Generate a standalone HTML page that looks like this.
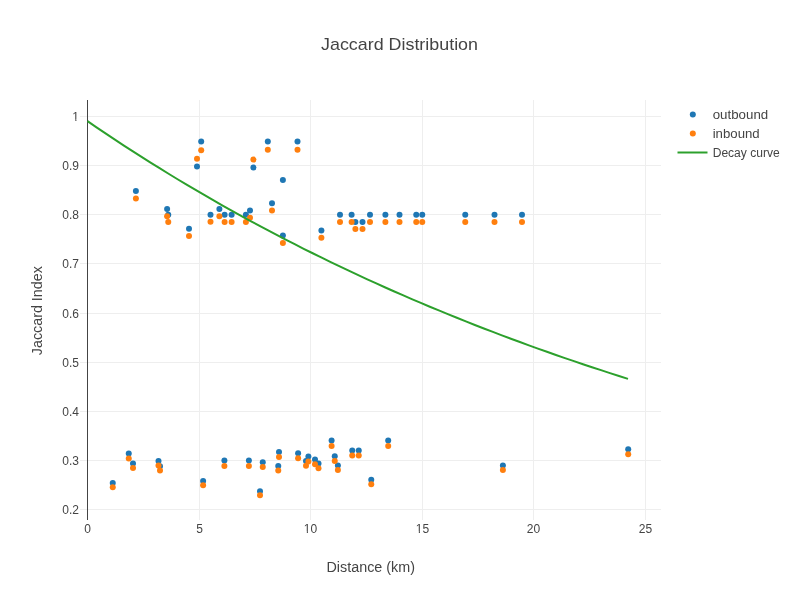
<!DOCTYPE html>
<html><head><meta charset="utf-8"><style>
html,body{margin:0;padding:0;background:#fff;}
svg{display:block;font-family:"Liberation Sans",sans-serif;will-change:transform;}
</style></head><body>
<svg width="800" height="600" viewBox="0 0 800 600">
<rect width="800" height="600" fill="#fff"/>
<g stroke="#eeeeee" stroke-width="1" fill="none" shape-rendering="crispEdges"><path d="M199.5,100V520" /><path d="M310.5,100V520" /><path d="M422.5,100V520" /><path d="M533.5,100V520" /><path d="M645.5,100V520" /><path d="M80,116.5H661" /><path d="M80,165.5H661" /><path d="M80,214.5H661" /><path d="M80,263.5H661" /><path d="M80,313.5H661" /><path d="M80,362.5H661" /><path d="M80,411.5H661" /><path d="M80,460.5H661" /><path d="M80,509.5H661" /></g>
<path d="M87.5,100V520" stroke="#444" stroke-width="1" shape-rendering="crispEdges"/>
<g fill="#1f77b4"><circle cx="135.9" cy="191.1" r="3"/><circle cx="167.1" cy="209.1" r="3"/><circle cx="168.25" cy="214.7" r="3"/><circle cx="189" cy="228.8" r="3"/><circle cx="197" cy="166.5" r="3"/><circle cx="201.2" cy="141.6" r="3"/><circle cx="210.5" cy="214.8" r="3"/><circle cx="219.4" cy="209.1" r="3"/><circle cx="224.6" cy="214.7" r="3"/><circle cx="231.6" cy="214.7" r="3"/><circle cx="245.9" cy="214.7" r="3"/><circle cx="250" cy="210.4" r="3"/><circle cx="253.4" cy="167.4" r="3"/><circle cx="267.8" cy="141.5" r="3"/><circle cx="272" cy="203.2" r="3"/><circle cx="282.9" cy="235.6" r="3"/><circle cx="282.9" cy="179.9" r="3"/><circle cx="297.5" cy="141.5" r="3"/><circle cx="321.4" cy="230.45" r="3"/><circle cx="340" cy="214.8" r="3"/><circle cx="351.6" cy="214.8" r="3"/><circle cx="355.4" cy="221.95" r="3"/><circle cx="362.5" cy="221.95" r="3"/><circle cx="370" cy="214.8" r="3"/><circle cx="385.4" cy="214.8" r="3"/><circle cx="399.5" cy="214.8" r="3"/><circle cx="416.25" cy="214.8" r="3"/><circle cx="422.25" cy="214.8" r="3"/><circle cx="465.25" cy="214.8" r="3"/><circle cx="494.5" cy="214.8" r="3"/><circle cx="522" cy="214.8" r="3"/><circle cx="112.75" cy="482.9" r="3"/><circle cx="128.75" cy="453.4" r="3"/><circle cx="133" cy="463.5" r="3"/><circle cx="158.5" cy="460.9" r="3"/><circle cx="160" cy="466.25" r="3"/><circle cx="203.1" cy="480.9" r="3"/><circle cx="224.4" cy="460.6" r="3"/><circle cx="248.9" cy="460.6" r="3"/><circle cx="260" cy="491.25" r="3"/><circle cx="262.75" cy="462.25" r="3"/><circle cx="278.25" cy="466.1" r="3"/><circle cx="279" cy="451.9" r="3"/><circle cx="298.1" cy="453.3" r="3"/><circle cx="306" cy="460.9" r="3"/><circle cx="308.4" cy="456.4" r="3"/><circle cx="315" cy="459.5" r="3"/><circle cx="318.5" cy="463.4" r="3"/><circle cx="331.6" cy="440.6" r="3"/><circle cx="334.75" cy="456.25" r="3"/><circle cx="337.9" cy="465.6" r="3"/><circle cx="352.25" cy="450.4" r="3"/><circle cx="358.75" cy="450.4" r="3"/><circle cx="371.25" cy="479.75" r="3"/><circle cx="388.2" cy="440.6" r="3"/><circle cx="502.9" cy="465.6" r="3"/><circle cx="628.2" cy="449.2" r="3"/></g>
<g fill="#ff7f0e"><circle cx="135.9" cy="198.6" r="3"/><circle cx="167.1" cy="216.2" r="3"/><circle cx="168.25" cy="221.95" r="3"/><circle cx="189" cy="235.95" r="3"/><circle cx="197" cy="158.7" r="3"/><circle cx="201.2" cy="150.3" r="3"/><circle cx="210.5" cy="221.8" r="3"/><circle cx="219.4" cy="216.2" r="3"/><circle cx="224.6" cy="222" r="3"/><circle cx="231.6" cy="222" r="3"/><circle cx="245.9" cy="222" r="3"/><circle cx="250" cy="217.7" r="3"/><circle cx="253.4" cy="159.6" r="3"/><circle cx="267.8" cy="149.85" r="3"/><circle cx="272" cy="210.6" r="3"/><circle cx="282.9" cy="243" r="3"/><circle cx="297.5" cy="149.85" r="3"/><circle cx="321.4" cy="237.7" r="3"/><circle cx="340" cy="221.95" r="3"/><circle cx="351.6" cy="221.95" r="3"/><circle cx="355.4" cy="228.95" r="3"/><circle cx="362.5" cy="228.95" r="3"/><circle cx="370" cy="221.95" r="3"/><circle cx="385.4" cy="221.95" r="3"/><circle cx="399.5" cy="221.95" r="3"/><circle cx="416.25" cy="221.95" r="3"/><circle cx="422.25" cy="221.95" r="3"/><circle cx="465.25" cy="221.95" r="3"/><circle cx="494.5" cy="221.95" r="3"/><circle cx="522" cy="221.95" r="3"/><circle cx="112.75" cy="487.25" r="3"/><circle cx="128.75" cy="458.4" r="3"/><circle cx="133" cy="468.1" r="3"/><circle cx="158.5" cy="465.6" r="3"/><circle cx="160" cy="470.6" r="3"/><circle cx="203.1" cy="485.25" r="3"/><circle cx="224.4" cy="465.9" r="3"/><circle cx="248.9" cy="465.9" r="3"/><circle cx="260" cy="495.25" r="3"/><circle cx="262.75" cy="467.1" r="3"/><circle cx="278.25" cy="470.6" r="3"/><circle cx="279" cy="456.9" r="3"/><circle cx="298.1" cy="458.3" r="3"/><circle cx="306" cy="465.75" r="3"/><circle cx="308.4" cy="461.4" r="3"/><circle cx="315" cy="464.25" r="3"/><circle cx="318.5" cy="468.2" r="3"/><circle cx="331.6" cy="445.9" r="3"/><circle cx="334.75" cy="461" r="3"/><circle cx="337.9" cy="470" r="3"/><circle cx="352.25" cy="455.6" r="3"/><circle cx="358.75" cy="455.6" r="3"/><circle cx="371.25" cy="484.3" r="3"/><circle cx="388.2" cy="445.9" r="3"/><circle cx="502.9" cy="470" r="3"/><circle cx="628.2" cy="454.2" r="3"/></g>
<path d="M87.50,121.17L96.51,127.32L105.52,133.39L114.53,139.39L123.53,145.30L132.54,151.14L141.55,156.91L150.56,162.60L159.57,168.21L168.57,173.76L177.58,179.23L186.59,184.63L195.60,189.96L204.61,195.22L213.62,200.41L222.62,205.54L231.63,210.60L240.64,215.59L249.65,220.52L258.66,225.38L267.67,230.18L276.68,234.92L285.68,239.60L294.69,244.22L303.70,248.78L312.71,253.27L321.72,257.71L330.73,262.10L339.73,266.42L348.74,270.69L357.75,274.90L366.76,279.06L375.77,283.17L384.78,287.22L393.78,291.22L402.79,295.17L411.80,299.07L420.81,302.91L429.82,306.71L438.82,310.45L447.83,314.15L456.84,317.80L465.85,321.41L474.86,324.96L483.87,328.47L492.88,331.94L501.88,335.36L510.89,338.73L519.90,342.06L528.91,345.35L537.92,348.60L546.92,351.80L555.93,354.96L564.94,358.08L573.95,361.16L582.96,364.21L591.97,367.21L600.98,370.17L609.98,373.09L618.99,375.98L628.00,378.83" fill="none" stroke="#2ca02c" stroke-width="2" stroke-linejoin="round"/>
<g fill="#444" font-size="12"><text x="79" y="120.7" text-anchor="end">1</text><text x="79" y="169.7" text-anchor="end">0.9</text><text x="79" y="218.7" text-anchor="end">0.8</text><text x="79" y="267.7" text-anchor="end">0.7</text><text x="79" y="317.7" text-anchor="end">0.6</text><text x="79" y="366.7" text-anchor="end">0.5</text><text x="79" y="415.7" text-anchor="end">0.4</text><text x="79" y="464.7" text-anchor="end">0.3</text><text x="79" y="513.7" text-anchor="end">0.2</text><text x="87.5" y="533" text-anchor="middle">0</text><text x="199.5" y="533" text-anchor="middle">5</text><text x="310.5" y="533" text-anchor="middle">10</text><text x="422.5" y="533" text-anchor="middle">15</text><text x="533.5" y="533" text-anchor="middle">20</text><text x="645.5" y="533" text-anchor="middle">25</text></g>
<g fill="#fff"><rect x="71.74" y="119.50" width="3.60" height="2.5"/><rect x="76.40" y="119.50" width="2.61" height="2.5"/><rect x="303.24" y="531.50" width="3.60" height="2.5"/><rect x="307.90" y="531.50" width="2.61" height="2.5"/><rect x="415.24" y="531.50" width="3.60" height="2.5"/><rect x="419.90" y="531.50" width="2.61" height="2.5"/></g>
<text x="321" y="49.7" font-size="17" fill="#444" textLength="157" lengthAdjust="spacingAndGlyphs">Jaccard Distribution</text>
<text x="326.5" y="571.7" font-size="14" fill="#444" textLength="88.5" lengthAdjust="spacingAndGlyphs">Distance (km)</text>
<text transform="translate(42.3,355.2) rotate(-90)" font-size="14" fill="#444" textLength="89" lengthAdjust="spacingAndGlyphs">Jaccard Index</text>
<g font-size="12" fill="#444">
<circle cx="692.8" cy="114.5" r="3" fill="#1f77b4"/>
<text x="712.7" y="118.8" textLength="55.5" lengthAdjust="spacingAndGlyphs">outbound</text>
<circle cx="692.8" cy="133.5" r="3" fill="#ff7f0e"/>
<text x="712.7" y="137.8" textLength="47" lengthAdjust="spacingAndGlyphs">inbound</text>
<path d="M677.5,152.5H707.5" stroke="#2ca02c" stroke-width="2"/>
<text x="712.7" y="156.8" textLength="67" lengthAdjust="spacingAndGlyphs">Decay curve</text>
</g>
</svg>
</body></html>
